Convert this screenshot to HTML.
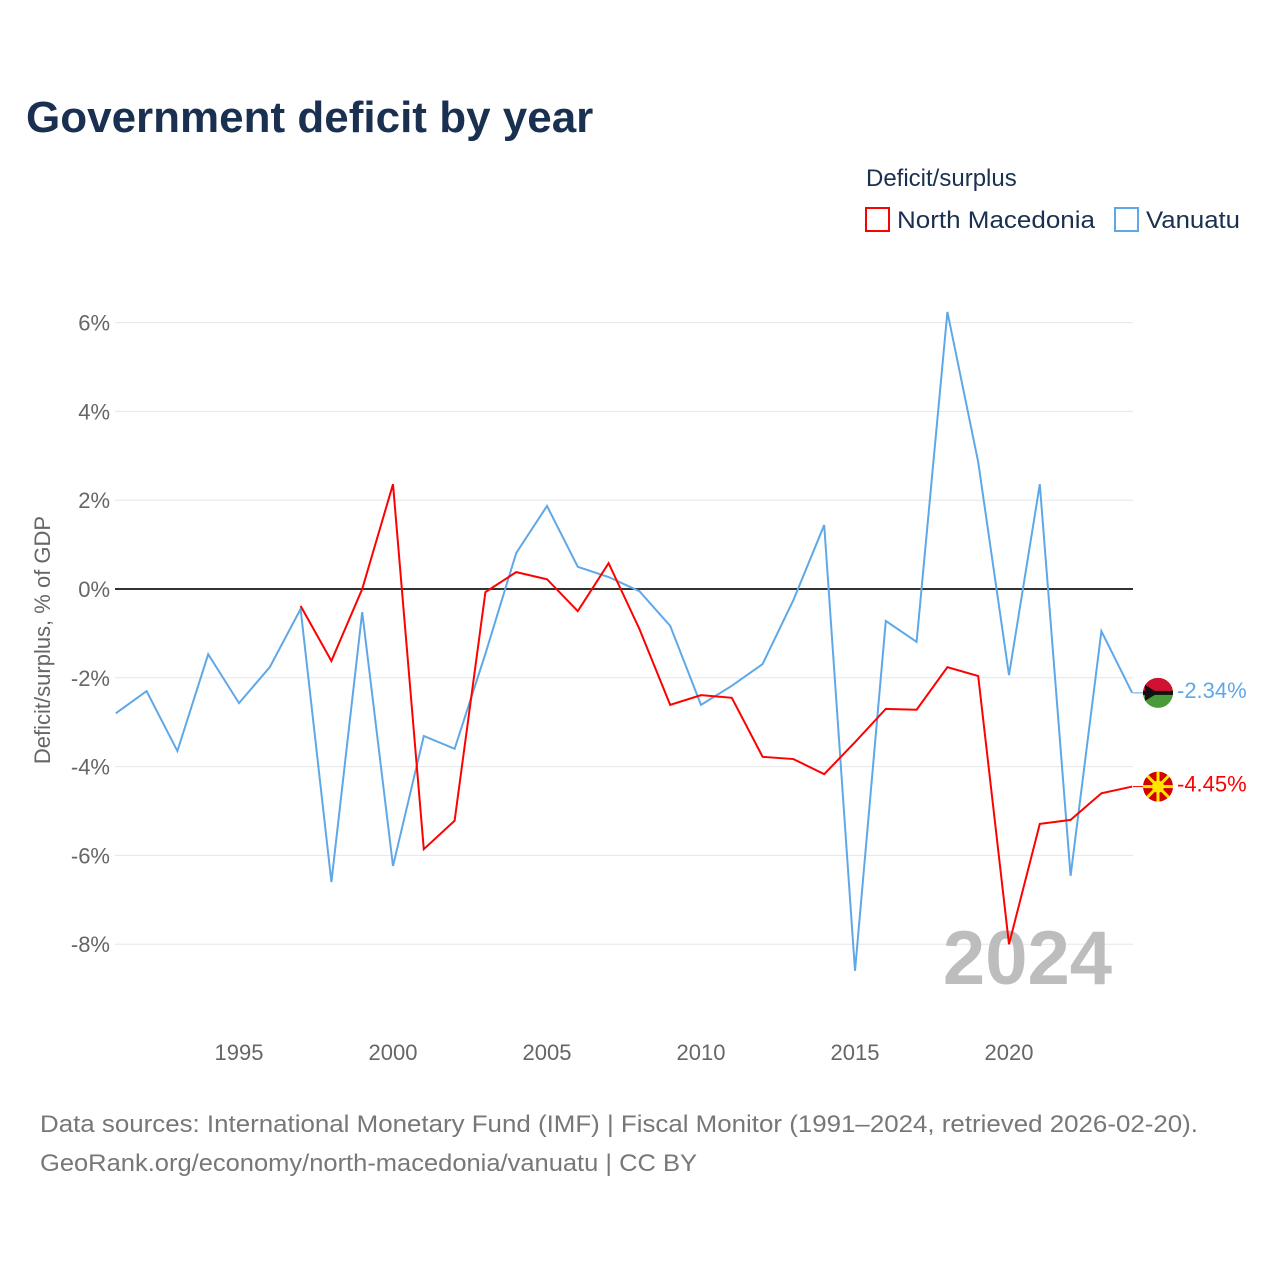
<!DOCTYPE html>
<html><head><meta charset="utf-8"><style>
body{margin:0;background:#fff;font-family:"Liberation Sans",sans-serif}
</style></head><body>
<svg id="chart" width="1280" height="1280" xmlns="http://www.w3.org/2000/svg">
<text x="26" y="132" font-size="44" font-weight="bold" fill="#1a3050">Government deficit by year</text>
<text x="866" y="186" font-size="24" fill="#1a3050">Deficit/surplus</text>
<g><rect x="866" y="208" width="23" height="23" fill="none" stroke="#ff0000" stroke-width="2"/><text x="897" y="228" font-size="24" fill="#1a3050" textLength="198" lengthAdjust="spacingAndGlyphs">North Macedonia</text></g>
<g><rect x="1115" y="208" width="23" height="23" fill="none" stroke="#5fa8e8" stroke-width="2"/><text x="1146" y="228" font-size="24" fill="#1a3050" textLength="94" lengthAdjust="spacingAndGlyphs">Vanuatu</text></g>
<g id="grid"></g>
<g id="xticks"></g>
<text transform="translate(50,640) rotate(-90)" text-anchor="middle" font-size="22" fill="#666">Deficit/surplus, % of GDP</text>
<text x="1112" y="984" text-anchor="end" font-size="76" font-weight="bold" fill="#bdbdbd">2024</text>
<g id="series"></g>
<text x="40" y="1132" font-size="24" fill="#777" textLength="1158" lengthAdjust="spacingAndGlyphs">Data sources: International Monetary Fund (IMF) | Fiscal Monitor (1991–2024, retrieved 2026-02-20).</text>
<text x="40" y="1171" font-size="24" fill="#777" textLength="657" lengthAdjust="spacingAndGlyphs">GeoRank.org/economy/north-macedonia/vanuatu | CC BY</text>
</svg>
<script>
const years=[];for(let y=1991;y<=2024;y++)years.push(y);
const vanuatu=[-2.8,-2.3,-3.65,-1.47,-2.57,-1.76,-0.45,-6.6,-0.52,-6.24,-3.31,-3.6,-1.46,0.81,1.87,0.5,0.27,-0.05,-0.83,-2.61,-2.18,-1.69,-0.25,1.44,-8.6,-0.72,-1.19,6.24,2.86,-1.94,2.36,-6.46,-0.95,-2.34];
const macedonia=[null,null,null,null,null,null,-0.38,-1.62,0,2.36,-5.86,-5.22,-0.07,0.38,0.22,-0.5,0.58,-0.9,-2.61,-2.39,-2.45,-3.78,-3.83,-4.17,-3.45,-2.7,-2.72,-1.76,-1.96,-8.0,-5.29,-5.2,-4.6,-4.45];
const yTicks=[-8,-6,-4,-2,0,2,4,6];
const xTicks=[1995,2000,2005,2010,2015,2020];
const x=v=>115.8+(v-1991)*30.8;
const y=v=>589-v*44.4;
const NS="http://www.w3.org/2000/svg";
function mk(t,a,p){const e=document.createElementNS(NS,t);for(const k in a)e.setAttribute(k,a[k]);p.appendChild(e);return e;}
const grid=document.getElementById('grid');
yTicks.forEach(t=>{
 const l=mk('line',{x1:115,x2:1133,y1:y(t),y2:y(t),stroke:t===0?'#333':'#e6e6e6','stroke-width':t===0?2:1},grid);
 
 
 const tx=mk('text',{x:110,y:y(t)+8,'text-anchor':'end','font-size':22,fill:'#666'},grid);
 tx.textContent=t+'%';
 
 
});
const xt=document.getElementById('xticks');
xTicks.forEach(t=>{
 const tx=mk('text',{x:x(t),y:1060,'text-anchor':'middle','font-size':22,fill:'#666'},xt);
 tx.textContent=t;
 
 
});
const s=document.getElementById('series');
function line(data,color,name){
 let d='';data.forEach((v,i)=>{if(v===null)return;d+=(d?'L':'M')+x(years[i])+','+y(v);});
 const p=mk('path',{d:d,fill:'none',stroke:color,'stroke-width':2},s);
 
 
}
line(vanuatu,'#5fa8e8','line-vanuatu');
line(macedonia,'#ff0000','line-north-macedonia');
function endLabel(v,color,name,flag){
 const cy=y(v);
 mk('line',{x1:1133,x2:1143,y1:cy,y2:cy,stroke:color,'stroke-width':1},s);
 const g=mk('g',{},s);
 
 
 if(flag==='mk'){mk('circle',{cx:1158,cy:cy,r:15,fill:'#d20000'},g);mk('circle',{cx:1158,cy:cy,r:6,fill:'#ffe600'},g);
  for(let a=0;a<8;a++){const r=a*Math.PI/4;mk('line',{x1:1158,y1:cy,x2:1158+15*Math.cos(r),y2:cy+15*Math.sin(r),stroke:'#ffe600','stroke-width':3},g);}}
 else{mk('circle',{cx:1158,cy:cy,r:15,fill:'#4a9a3a'},g);mk('path',{d:`M1143,${cy} A15,15 0 0 1 1173,${cy} Z`,fill:'#d21034'},g);
  mk('rect',{x:1143,y:cy-2,width:30,height:4,fill:'#111'},g);mk('path',{d:`M1145,${cy-8} L1158,${cy} L1145,${cy+8}Z`,fill:'#111'},g);}
 const t=mk('text',{x:1177,y:cy+5,'font-size':22,fill:color},s);
 t.textContent=v.toFixed(2)+'%';
 
 
}
endLabel(vanuatu[vanuatu.length-1],'#5fa8e8','vanuatu','vu');
endLabel(macedonia[macedonia.length-1],'#ff0000','north-macedonia','mk');
</script>
</body></html>
